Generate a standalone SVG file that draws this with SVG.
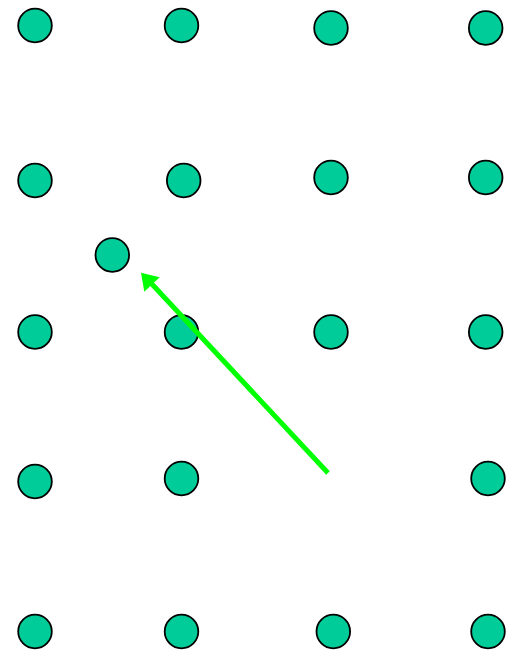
<svg xmlns="http://www.w3.org/2000/svg" width="510" height="650" viewBox="0 0 510 650">
<style>
.n{fill:#00cc99;stroke:#000;stroke-width:1.8}
.c{stroke:#00ff00;stroke-width:5;fill:none}
.h{fill:#00ff00}
</style>
<rect width="510" height="650" fill="#fff"/>
<g id="n1"><circle class="n" cx="35" cy="25.5" r="16.8"/></g>
<g id="n2"><circle class="n" cx="181.5" cy="25.5" r="16.8"/></g>
<g id="n3"><circle class="n" cx="331" cy="28" r="16.8"/></g>
<g id="n4"><circle class="n" cx="485.7" cy="28" r="16.8"/></g>
<g id="n5"><circle class="n" cx="35" cy="180.5" r="16.8"/></g>
<g id="n6"><circle class="n" cx="183.7" cy="180.5" r="16.8"/></g>
<g id="n7"><circle class="n" cx="331" cy="177.5" r="16.8"/></g>
<g id="n8"><circle class="n" cx="485.7" cy="177.5" r="16.8"/></g>
<g id="n9"><circle class="n" cx="112.3" cy="255" r="16.8"/></g>
<g id="n10"><circle class="n" cx="35" cy="332" r="16.8"/></g>
<g id="n11"><circle class="n" cx="181.5" cy="332" r="16.8"/></g>
<g id="n12"><circle class="n" cx="331" cy="332" r="16.8"/></g>
<g id="n13"><circle class="n" cx="485.7" cy="332" r="16.8"/></g>
<g id="n14"><circle class="n" cx="35" cy="481.5" r="16.8"/></g>
<g id="n15"><circle class="n" cx="181.5" cy="478.5" r="16.8"/></g>
<g id="n16"><circle class="n" cx="488" cy="478.5" r="16.8"/></g>
<g id="n17"><circle class="n" cx="35" cy="631.5" r="16.8"/></g>
<g id="n18"><circle class="n" cx="181.5" cy="631.5" r="16.8"/></g>
<g id="n19"><circle class="n" cx="333.3" cy="631.5" r="16.8"/></g>
<g id="n20"><circle class="n" cx="488" cy="631.5" r="16.8"/></g>
<g id="connectors">
<line class="c" x1="328" y1="473" x2="150" y2="282"/>
<path class="h" d="M141,272.7 L159.7,277.3 L144.3,291.7 Z"/>
</g>
</svg>
